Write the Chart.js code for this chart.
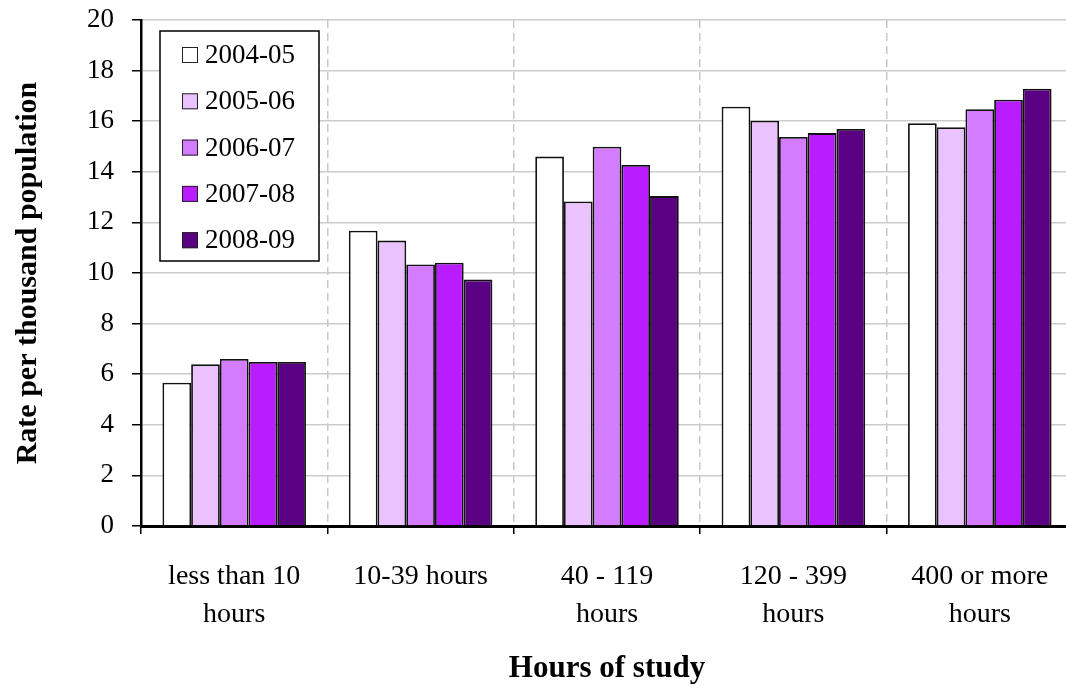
<!DOCTYPE html>
<html>
<head>
<meta charset="utf-8">
<script src="https://cdn.jsdelivr.net/npm/chart.js@4/dist/chart.umd.min.js"></script>
<style>
  html, body { margin: 0; padding: 0; background: #fff; overflow: hidden; }
  #wrap { width: 1076px; height: 688px; }
</style>
</head>
<body>
<div id="wrap"><canvas id="chart" width="1076" height="688"></canvas></div>
<script>
const categories = [
  ['less than 10', 'hours'],
  '10-39 hours',
  ['40 - 119', 'hours'],
  ['120 - 399', 'hours'],
  ['400 or more', 'hours']
];
const seriesLabels = ['2004-05', '2005-06', '2006-07', '2007-08', '2008-09'];
const seriesColors = ['#ffffff', '#eac2ff', '#d47cff', '#b91cff', '#5a0082'];

const v2004 = [5.66, 11.67, 14.60, 16.57, 15.92];
const v2005 = [6.39, 11.28, 12.83, 16.02, 15.76];
const v2006 = [6.60, 10.34, 14.99, 15.38, 16.47];
const v2007 = [6.48, 10.41, 14.27, 15.53, 16.85];
const v2008 = [6.48, 9.74, 13.04, 15.69, 17.28];
const seriesValues = [v2004, v2005, v2006, v2007, v2008];

const fontFamily = '"Liberation Serif", "Times New Roman", serif';

// legend box drawn inside the plot, top-left
const insideLegend = {
  id: 'insideLegend',
  afterDraw(chart) {
    const ctx = chart.ctx;
    const x = 160, y = 31, w = 159, h = 230;
    ctx.save();
    ctx.fillStyle = '#fff';
    ctx.fillRect(x, y, w, h);
    ctx.lineWidth = 1.5;
    ctx.strokeStyle = '#000';
    ctx.strokeRect(x, y, w, h);
    ctx.font = '27px ' + fontFamily;
    ctx.textBaseline = 'middle';
    chart.data.datasets.forEach((ds, i) => {
      const cy = y + 24 + i * 46.3;
      ctx.fillStyle = ds.backgroundColor;
      ctx.fillRect(182, cy - 8, 16, 16);
      ctx.lineWidth = 1;
      ctx.strokeStyle = '#222';
      ctx.strokeRect(182.5, cy - 7.5, 15, 15);
      ctx.fillStyle = '#000';
      ctx.fillText(ds.label, 205, cy + 1);
    });
    ctx.restore();
  }
};

new Chart(document.getElementById('chart'), {
  type: 'bar',
  data: {
    labels: categories,
    datasets: seriesLabels.map((label, i) => ({
      label: label,
      data: seriesValues[i],
      backgroundColor: seriesColors[i],
      borderColor: '#111',
      borderWidth: 1.8,
      barPercentage: 1,
      categoryPercentage: 0.77
    }))
  },
  options: {
    responsive: false,
    animation: false,
    devicePixelRatio: 1,
    layout: { padding: { top: 20, right: 3, left: 0, bottom: 0 } },
    plugins: {
      legend: { display: false },
      tooltip: { enabled: false }
    },
    scales: {
      x: {
        afterFit: (scale) => { scale.height = 162; },
        grid: {
          offset: true,
          color: '#c8c8c8',
          lineWidth: 1.5,
          tickColor: '#000',
          tickWidth: 1.5,
          tickLength: 8
        },
        border: { color: '#000', width: 3, dash: [8, 5] },
        ticks: {
          color: '#000',
          padding: 24,
          maxRotation: 0,
          autoSkip: false,
          font: { family: fontFamily, size: 28, lineHeight: 1.36 }
        },
        title: {
          display: true,
          text: 'Hours of study',
          color: '#000',
          padding: { top: 0, bottom: 0 },
          font: { family: fontFamily, size: 31, weight: 'bold' }
        }
      },
      y: {
        min: 0,
        max: 20,
        afterFit: (scale) => {
          scale.width = 141;
          scale.paddingTop = 0;
          scale.paddingBottom = 0;
        },
        ticks: {
          stepSize: 2,
          color: '#000',
          padding: 18,
          font: { family: fontFamily, size: 27 }
        },
        grid: {
          color: '#cccccc',
          lineWidth: 1.5,
          tickColor: '#000',
          tickWidth: 1.5,
          tickLength: 9
        },
        border: { color: '#000', width: 2.5 },
        title: {
          display: true,
          text: 'Rate per thousand population',
          color: '#000',
          padding: { top: 10, bottom: 0 },
          font: { family: fontFamily, size: 30, weight: 'bold' }
        }
      }
    }
  },
  plugins: [insideLegend]
});
</script>
</body>
</html>
